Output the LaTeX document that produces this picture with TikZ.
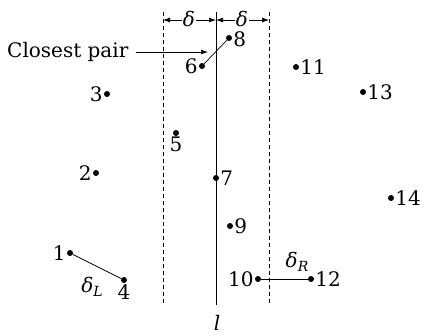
\documentclass[tikz,border=0pt]{standalone}
\usepackage{fontspec}
\setmainfont{DejaVu Serif}
\usetikzlibrary{arrows.meta}
\newcommand{\dlt}{\textit{δ}}
\newcommand{\dsub}[1]{\textit{δ}\raisebox{-0.4ex}{\fontsize{14}{15}\selectfont\textit{#1}}}
\begin{document}
\begin{tikzpicture}[x=1pt,y=-1pt,
  pt/.style={circle,fill=black,inner sep=0pt,minimum size=6pt},
  lab/.style={inner sep=1pt,font=\fontsize{20}{24}\selectfont},
  dline/.style={dashed,line width=0.7pt,dash pattern=on 4pt off 3pt},
  seg/.style={line width=0.7pt},
  arr/.style={-{Latex[length=7pt,width=5pt]},line width=0.7pt}]
\useasboundingbox (0,0) rectangle (425,335);
% dividing lines
\coordinate (dlT) at (163,12); \coordinate (dlB) at (163,305);
\coordinate (drT) at (269,12); \coordinate (drB) at (269,305);
\coordinate (lT) at (216,12);  \coordinate (lB) at (216,305);
\draw[dline] (dlT) -- (dlB);
\draw[dline] (drT) -- (drB);
\draw[seg] (lT) -- (lB);
\node[lab] (l) at (217,323) {\textit{l}};
% delta arrows
\node[lab,inner sep=0pt] (d1) at (189,19) {\dlt};
\node[lab,inner sep=0pt] (d2) at (242,19) {\dlt};
\coordinate (a1) at (163,20); \coordinate (a2) at (216,20); \coordinate (a3) at (269,20);
\draw[arr] (d1.west) ++(-1,1) -- (a1);
\draw[arr] (d1.east) ++(1,1) -- (a2);
\draw[arr] (d2.west) ++(-1,1) -- (a2);
\draw[arr] (d2.east) ++(1,1) -- (a3);
% points
\node[pt] (p1) at (70,253) {};  \node[lab,left]  at (p1.west) {1};
\node[pt] (p2) at (96,173) {};  \node[lab,left]  at (p2.west) {2};
\node[pt] (p3) at (107,94) {};  \node[lab,left]  at (p3.west) {3};
\node[pt] (p4) at (124,280) {}; \node[lab,below] at (p4.south) {4};
\node[pt] (p5) at (176,133) {}; \node[lab,below] at (p5.south) {5};
\node[pt] (p6) at (202,66) {};  \node[lab,left]  at (p6.west) {6};
\node[pt] (p7) at (216,178) {}; \node[lab,right] at (p7.east) {7};
\node[pt] (p8) at (229,38) {};  \node[lab,right] at ([yshift=-1pt]p8.east) {8};
\node[pt] (p9) at (230,226) {}; \node[lab,right] at (p9.east) {9};
\node[pt] (p10) at (258,279) {}; \node[lab,left]  at (p10.west) {10};
\node[pt] (p11) at (296,67) {};  \node[lab,right] at (p11.east) {11};
\node[pt] (p12) at (311,279) {}; \node[lab,right] at (p12.east) {12};
\node[pt] (p13) at (363,92) {};  \node[lab,right] at (p13.east) {13};
\node[pt] (p14) at (391,198) {}; \node[lab,right] at (p14.east) {14};
% segments
\draw[seg] (p6) -- (p8);
\draw[seg] (p1) -- (p4);
\draw[seg] (p10) -- (p12);
\node[lab] (dL) at (92,287) {\dsub{L}};
\node[lab] (dR) at (297,262) {\dsub{R}};
% closest pair
\node[lab,anchor=west] (cp) at (6,52) {Closest pair};
\coordinate (cpend) at (208,52);
\draw[arr] (cp.east) ++(6,0) -- (cpend);
\end{tikzpicture}
\end{document}
